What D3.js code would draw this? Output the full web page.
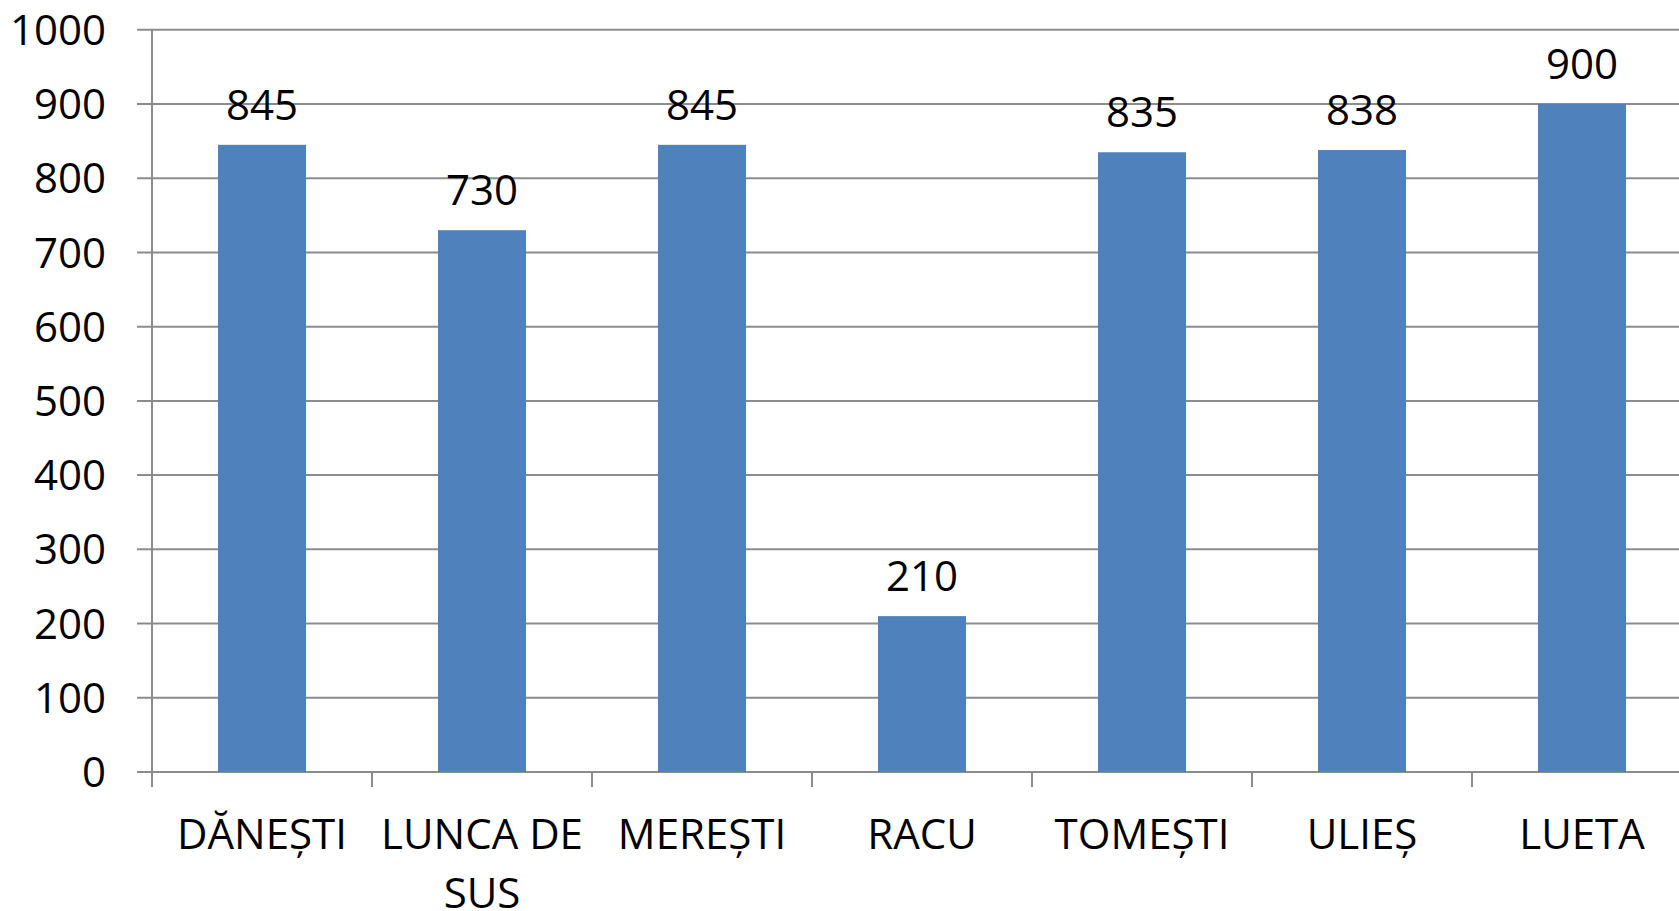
<!DOCTYPE html>
<html lang="ro">
<head>
    <meta charset="UTF-8">
    <title>Grafic</title>
    <script src="https://d3js.org/d3.v7.min.js"></script>
    <style>
        body { margin: 0; background: #fff; }
        text { font-family: "Open Sans", "Noto Sans", sans-serif; fill: #000; }
    </style>
</head>
<body>
<script>
    // date
    var categories = ["DĂNEȘTI", "LUNCA DE SUS", "MEREȘTI", "RACU", "TOMEȘTI", "ULIEȘ", "LUETA"];
    var values = [845, 730, 845, 210, 835, 838, 900];
    var yTicks = [0, 100, 200, 300, 400, 500, 600, 700, 800, 900, 1000];

    var width = 1679, height = 911;
    var plotLeft = 152, plotTop = 29.8, plotBottom = 772, step = 220;
    var fontSize = 42;

    var svg = d3.select("body").append("svg")
        .attr("width", width)
        .attr("height", height);

    var x = d3.scaleBand()
        .domain(categories)
        .range([plotLeft, plotLeft + step * categories.length])
        .paddingInner(0.6)
        .paddingOuter(0.3);

    var y = d3.scaleLinear()
        .domain([0, 1000])
        .range([plotBottom, plotTop]);

    // linii de grilă
    svg.selectAll("line.grid")
        .data(yTicks)
        .enter()
        .append("line")
        .attr("class", "grid")
        .attr("x1", plotLeft - 15)
        .attr("x2", width)
        .attr("y1", function(d) { return y(d); })
        .attr("y2", function(d) { return y(d); })
        .attr("stroke", "#8c8c8c")
        .attr("stroke-width", 2);

    // axa verticală
    svg.append("line")
        .attr("x1", plotLeft).attr("x2", plotLeft)
        .attr("y1", plotTop).attr("y2", plotBottom + 15)
        .attr("stroke", "#8c8c8c")
        .attr("stroke-width", 2);

    // marcaje pe axa orizontală (între categorii)
    var bounds = categories.map(function(c) { return x(c) - x.step() * x.paddingOuter(); }).slice(1);
    bounds.push(plotLeft + step * categories.length);
    svg.selectAll("line.xtick")
        .data(bounds)
        .enter()
        .append("line")
        .attr("class", "xtick")
        .attr("x1", function(d) { return d; })
        .attr("x2", function(d) { return d; })
        .attr("y1", plotBottom)
        .attr("y2", plotBottom + 15)
        .attr("stroke", "#8c8c8c")
        .attr("stroke-width", 2);

    // etichete axa Y
    svg.selectAll("text.ylab")
        .data(yTicks)
        .enter()
        .append("text")
        .attr("class", "ylab")
        .attr("x", 106)
        .attr("y", function(d) { return y(d); })
        .attr("dy", "0.36em")
        .attr("text-anchor", "end")
        .style("font-size", fontSize + "px")
        .text(function(d) { return d; });

    // bare
    svg.selectAll("rect.bar")
        .data(values)
        .enter()
        .append("rect")
        .attr("class", "bar")
        .attr("x", function(d, i) { return x(categories[i]); })
        .attr("y", function(d) { return y(d); })
        .attr("width", x.bandwidth())
        .attr("height", function(d) { return y(0) - y(d); })
        .attr("fill", "#4f81bd");

    // etichete valori
    svg.selectAll("text.val")
        .data(values)
        .enter()
        .append("text")
        .attr("class", "val")
        .attr("x", function(d, i) { return x(categories[i]) + x.bandwidth() / 2; })
        .attr("y", function(d) { return y(d) - 25; })
        .attr("text-anchor", "middle")
        .style("font-size", fontSize + "px")
        .text(function(d) { return d; });

    // etichete categorii, cu rupere pe rânduri dacă nu încap
    svg.selectAll("text.xlab")
        .data(categories)
        .enter()
        .append("text")
        .attr("class", "xlab")
        .attr("text-anchor", "middle")
        .style("font-size", fontSize + "px")
        .each(function(d) {
            var t = d3.select(this);
            var cx = x(d) + x.bandwidth() / 2;
            var words = d.split(" ");
            var lines = [], line = [];
            var probe = t.append("tspan");
            words.forEach(function(w) {
                line.push(w);
                probe.text(line.join(" "));
                if (probe.node().getComputedTextLength() > step - 10 && line.length > 1) {
                    line.pop();
                    lines.push(line.join(" "));
                    line = [w];
                }
            });
            lines.push(line.join(" "));
            probe.remove();
            lines.forEach(function(l, k) {
                t.append("tspan")
                    .attr("x", cx)
                    .attr("y", 849 + k * 59)
                    .text(l);
            });
        });
</script>
</body>
</html>
